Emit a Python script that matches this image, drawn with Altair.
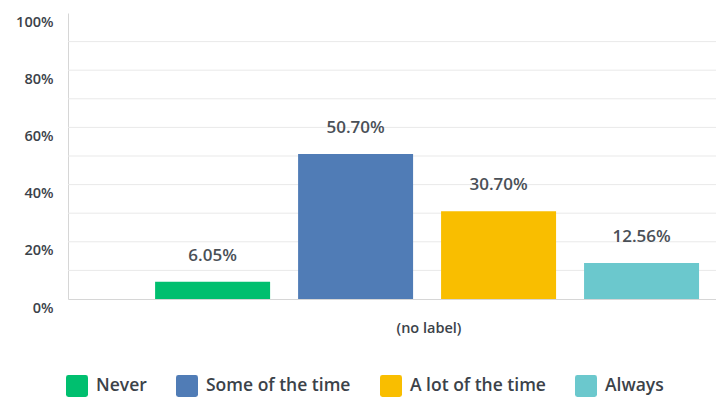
import altair as alt
import pandas as pd

# Survey responses: share of respondents per answer
answers = ["Never", "Some of the time", "A lot of the time", "Always"]
percents = [6.05, 50.70, 30.70, 12.56]
colors = ["#00bf6f", "#507cb6", "#f9be00", "#6bc8cd"]
label_ticks = [0, 20, 40, 60, 80, 100]
grid_ticks = [10, 20, 30, 40, 50, 60, 70, 80, 90]

df = pd.DataFrame({"answer": answers, "pct": percents})
grid_df = pd.DataFrame({"pct": grid_ticks})

FONT = "Open Sans"
TEXT = "#3b4249"

# rounded-square legend swatch
swatch = ("M -0.78 -1 H 0.78 Q 1 -1 1 -0.78 V 0.78 Q 1 1 0.78 1 "
          "H -0.78 Q -1 1 -1 0.78 V -0.78 Q -1 -1 -0.78 -1 Z")

y_scale = alt.Scale(domain=[0, 100], nice=False)

x_enc = alt.X(
    "answer:N",
    sort=answers,
    scale=alt.Scale(paddingInner=0.196, paddingOuter=0.364, align=0.837),
    axis=alt.Axis(
        labels=False, ticks=False, domain=True, domainColor="#d6d6d6",
        title="(no label)", titleX=360.5, titleY=29, titleAlign="center",
        titleBaseline="middle", titleFont=FONT, titleFontSize=14.5,
        titleFontWeight=600, titleColor=TEXT, grid=False,
    ),
)

y_enc = alt.Y(
    "pct:Q",
    scale=y_scale,
    axis=alt.Axis(
        values=label_ticks, title=None, ticks=False, domain=True,
        domainColor="#d6d6d6", grid=False,
        labelExpr="datum.value + '%'",
        labelFont=FONT, labelFontSize=14.5, labelFontWeight=600,
        labelColor=TEXT, labelPadding=15, labelOffset=9,
    ),
)

# horizontal guide lines every 10%
grid = alt.Chart(grid_df).mark_rule(color="#e9e9e9", strokeWidth=1).encode(
    y=alt.Y("pct:Q", scale=y_scale),
)

bars = alt.Chart(df).mark_bar(size=115).encode(
    x=x_enc,
    y=y_enc,
    color=alt.Color(
        "answer:N",
        sort=answers,
        scale=alt.Scale(domain=answers, range=colors),
        legend=alt.Legend(
            title=None, orient="none", legendX=-2, legendY=362,
            direction="horizontal", columns=4,
            symbolType=swatch, symbolSize=484, symbolStrokeWidth=0,
            symbolOpacity=1, labelFont=FONT, labelFontSize=17.5,
            labelFontWeight=600, labelColor=TEXT, labelOffset=8,
            columnPadding=29,
        ),
    ),
)

labels = alt.Chart(df).transform_calculate(
    txt="format(datum.pct, '.2f') + '%'"
).mark_text(
    dy=-26, font=FONT, fontSize=17, fontWeight=600, color="#4a5057",
    baseline="middle",
).encode(
    x=alt.X("answer:N", sort=answers),
    y=alt.Y("pct:Q"),
    text="txt:N",
)

chart = (
    alt.layer(grid, bars, labels)
    .properties(
        width=648, height=286,
        padding={"left": 68, "top": 13, "right": 0, "bottom": 100},
        autosize=alt.AutoSizeParams(type="none"),
        background="white",
    )
    .configure_view(stroke=None)
)

chart.save("out.html", embed_options={"renderer": "svg", "actions": False})
